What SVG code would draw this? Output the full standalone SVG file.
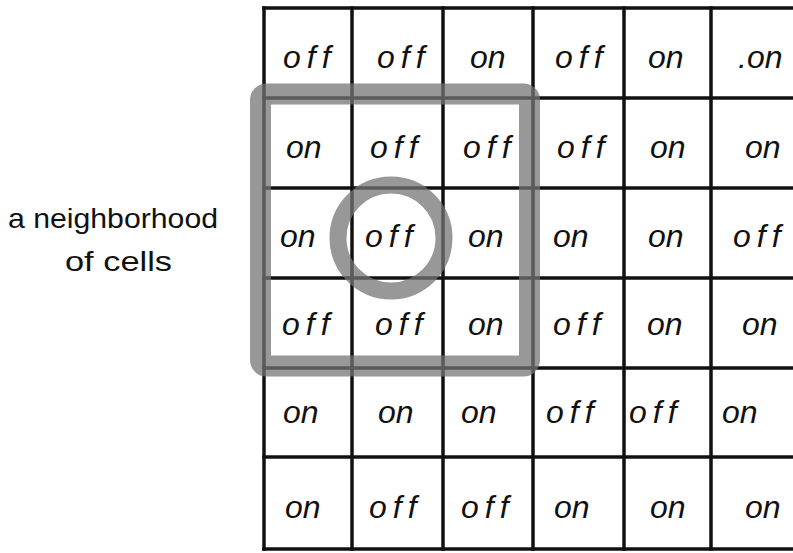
<svg xmlns="http://www.w3.org/2000/svg" width="793" height="553" viewBox="0 0 793 553">
<style>
.grid line{stroke:#111;stroke-width:3.5;stroke-linecap:square}
.cell text{font-family:"Liberation Sans","DejaVu Sans",sans-serif;font-style:italic;font-size:32px;fill:#111}
.cell .f{letter-spacing:6px}
.lbl{font-family:"Liberation Sans","DejaVu Sans",sans-serif;font-size:28px;fill:#111}
.hl{fill:none;stroke:#747474;stroke-opacity:0.74}
</style>
<rect width="793" height="553" fill="#fff"/>
<g id="grid" class="grid">
<line x1="264" y1="8" x2="793" y2="8"/>
<line x1="264" y1="98" x2="793" y2="98"/>
<line x1="264" y1="188" x2="793" y2="188"/>
<line x1="264" y1="278" x2="793" y2="278"/>
<line x1="264" y1="368" x2="793" y2="368"/>
<line x1="264" y1="457" x2="793" y2="457"/>
<line x1="264" y1="549" x2="793" y2="549"/>
<line x1="264" y1="8" x2="264" y2="549"/>
<line x1="352" y1="8" x2="352" y2="549"/>
<line x1="443" y1="8" x2="443" y2="549"/>
<line x1="533" y1="8" x2="533" y2="549"/>
<line x1="624" y1="8" x2="624" y2="549"/>
<line x1="711" y1="8" x2="711" y2="549"/>
</g>
<g id="cells" class="cell">
<text class="f" x="283" y="68">off</text>
<text class="f" x="377" y="68">off</text>
<text x="470" y="68">on</text>
<text class="f" x="555" y="68">off</text>
<text x="648" y="68">on</text>
<text x="738" y="68">.on</text>
<text x="286" y="158">on</text>
<text class="f" x="370" y="158">off</text>
<text class="f" x="463" y="158">off</text>
<text class="f" x="557" y="158">off</text>
<text x="650" y="158">on</text>
<text x="745" y="158">on</text>
<text x="280" y="247">on</text>
<text class="f" x="365" y="247">off</text>
<text x="468" y="247">on</text>
<text x="553" y="247">on</text>
<text x="648" y="247">on</text>
<text class="f" x="733" y="247">off</text>
<text class="f" x="282" y="335">off</text>
<text class="f" x="375" y="335">off</text>
<text x="468" y="335">on</text>
<text class="f" x="553" y="335">off</text>
<text x="647" y="335">on</text>
<text x="742" y="335">on</text>
<text x="283" y="423">on</text>
<text x="378" y="423">on</text>
<text x="461" y="423">on</text>
<text class="f" x="546" y="423">off</text>
<text class="f" x="629" y="423">off</text>
<text x="722" y="423">on</text>
<text x="285" y="518">on</text>
<text class="f" x="369" y="518">off</text>
<text class="f" x="461" y="518">off</text>
<text x="554" y="518">on</text>
<text x="650" y="518">on</text>
<text x="745" y="518">on</text>
</g>
<g id="neighborhood">
<rect class="hl" x="260.5" y="94" width="269" height="272" rx="6" stroke-width="21"/>
</g>
<g id="center-cell">
<circle class="hl" cx="391" cy="238" r="53" stroke-width="17"/>
</g>
<g id="label">
<text class="lbl" x="8" y="228" textLength="210" lengthAdjust="spacingAndGlyphs">a neighborhood</text>
<text class="lbl" x="65" y="271" textLength="107" lengthAdjust="spacingAndGlyphs">of cells</text>
</g>
</svg>
